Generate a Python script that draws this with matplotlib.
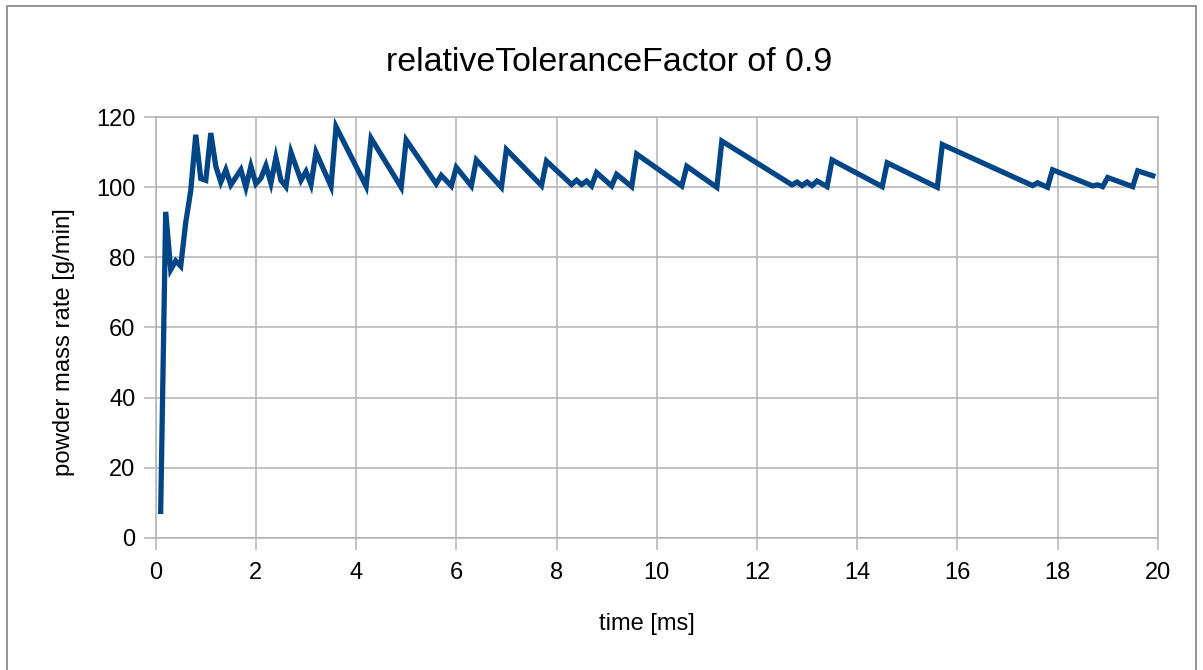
import matplotlib
matplotlib.use("Agg")
import matplotlib.pyplot as plt
from matplotlib.patches import Rectangle

plt.rcParams['font.family'] = ['Liberation Sans', 'DejaVu Sans']

# data
time_ms = [0.1, 0.2, 0.3, 0.4, 0.5, 0.6, 0.7, 0.8, 0.9, 1.0, 1.1, 1.2, 1.3, 1.4, 1.5,
           1.7, 1.8, 1.9, 2.0, 2.1, 2.2, 2.3, 2.4, 2.5, 2.6, 2.7, 2.9, 3.0, 3.1, 3.2,
           3.5, 3.6, 4.2, 4.3, 4.9, 5.0, 5.6, 5.7, 5.9, 6.0, 6.3, 6.4, 6.9, 7.0, 7.7,
           7.8, 8.3, 8.4, 8.5, 8.6, 8.7, 8.8, 9.1, 9.2, 9.5, 9.6, 10.5, 10.6, 11.2,
           11.3, 12.7, 12.8, 12.9, 13.0, 13.1, 13.2, 13.4, 13.5, 14.5, 14.6, 15.6,
           15.7, 17.5, 17.6, 17.8, 17.9, 18.7, 18.8, 18.9, 19.0, 19.5, 19.6, 19.9]
mass_rate = [7.5, 93, 76.5, 79, 77.5, 90, 99, 115, 102.5, 102, 115.5, 106, 101.5, 105, 100.7,
             105, 100, 106, 101, 102.6, 106.2, 101.2, 108.5, 102, 100.2, 110, 102, 104.5, 100.8, 110,
             100.3, 117.3, 100.3, 114, 100, 113.5, 101, 103.4, 100.4, 105.7, 100.4, 107.8, 100, 110.8, 100.5,
             107.5, 100.8, 102, 100.8, 101.8, 100.4, 104.2, 100.4, 103.7, 100.2, 109.5, 100.4, 106, 100,
             113.2, 100.7, 101.5, 100.5, 101.5, 100.5, 101.8, 100.2, 107.8, 100.2, 107, 100,
             112.2, 100.5, 101.3, 100, 105, 100.4, 100.7, 100.2, 102.8, 100.2, 104.7, 103.3]

x_ticks = [0, 2, 4, 6, 8, 10, 12, 14, 16, 18, 20]
y_ticks = [0, 20, 40, 60, 80, 100, 120]

fig = plt.figure(figsize=(12.03, 6.70), dpi=100)
ax = fig.add_axes([0.1294, 0.1975, 0.8330, 0.6275])

ax.plot(time_ms, mass_rate, color='#004586', linewidth=3.8, solid_joinstyle='miter')

ax.set_xlim(0, 20)
ax.set_ylim(0, 120)
ax.set_xticks(x_ticks)
ax.set_yticks(y_ticks)
ax.grid(True, color='#b3b3b3', linewidth=1.1)
ax.set_axisbelow(True)
for s in ax.spines.values():
    s.set_color('#b3b3b3')
    s.set_linewidth(1.1)
ax.tick_params(axis='both', colors='#b3b3b3', labelcolor='black', labelsize=17,
               length=8.5, width=1.1, direction='out')
ax.tick_params(axis='x', pad=9)
ax.tick_params(axis='y', pad=6)

fig.text(0.506, 0.907, 'relativeToleranceFactor of 0.9', ha='center', va='center', fontsize=24.4)
fig.text(0.538, 0.068, 'time [ms]', ha='center', va='center', fontsize=17)
fig.text(0.053, 0.49, 'powder mass rate [g/min]', ha='center', va='center',
         rotation=90, fontsize=17.2)

fig.patches.append(Rectangle((7 / 1203, -0.01), 1189 / 1203, 1.0 - 5.5 / 670 + 0.01,
                             transform=fig.transFigure, fill=False,
                             edgecolor='#808080', linewidth=1.2))

fig.savefig('out.png', dpi=100)
